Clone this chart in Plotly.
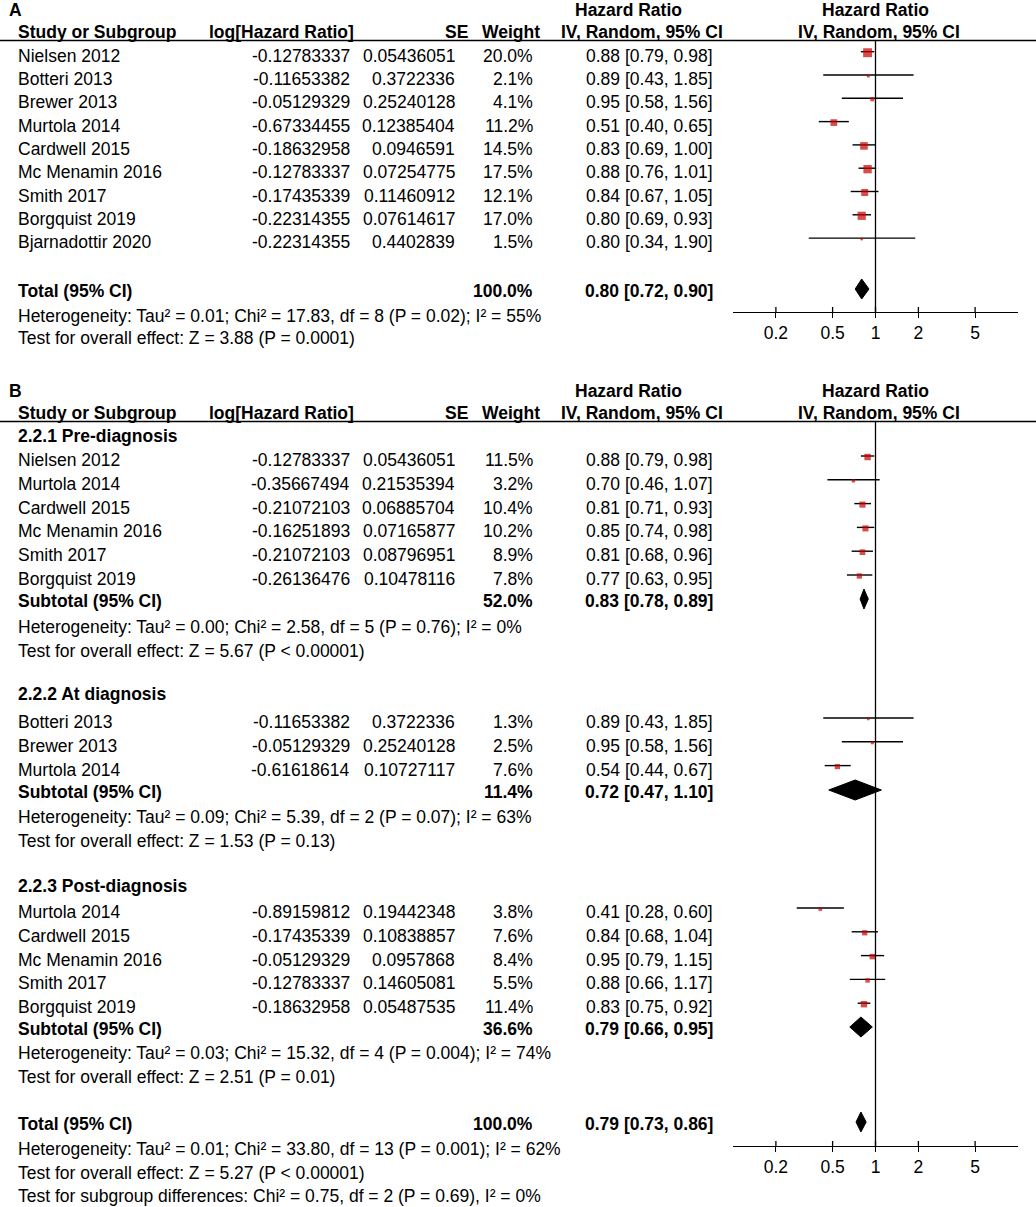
import math
import plotly.graph_objects as go

# ---------------- DATA: panel A ----------------
study_a = ["Nielsen 2012", "Botteri 2013", "Brewer 2013", "Murtola 2014", "Cardwell 2015",
           "Mc Menamin 2016", "Smith 2017", "Borgquist 2019", "Bjarnadottir 2020"]
loghr_a = [-0.12783337, -0.11653382, -0.05129329, -0.67334455, -0.18632958,
           -0.12783337, -0.17435339, -0.22314355, -0.22314355]
se_a = [0.05436051, 0.3722336, 0.25240128, 0.12385404, 0.0946591,
        0.07254775, 0.11460912, 0.07614617, 0.4402839]
weight_a = [20.0, 2.1, 4.1, 11.2, 14.5, 17.5, 12.1, 17.0, 1.5]
hr_a = [0.88, 0.89, 0.95, 0.51, 0.83, 0.88, 0.84, 0.80, 0.80]
lo_a = [0.79, 0.43, 0.58, 0.40, 0.69, 0.76, 0.67, 0.69, 0.34]
hi_a = [0.98, 1.85, 1.56, 0.65, 1.00, 1.01, 1.05, 0.93, 1.90]
total_a = [100.0, 0.80, 0.72, 0.90]          # weight, HR, lower, upper
het_a = "Heterogeneity: Tau² = 0.01; Chi² = 17.83, df = 8 (P = 0.02); I² = 55%"
eff_a = "Test for overall effect: Z = 3.88 (P = 0.0001)"

# ---------------- DATA: panel B ----------------
group_titles = ["2.2.1 Pre-diagnosis", "2.2.2 At diagnosis", "2.2.3 Post-diagnosis"]

pre_study = ["Nielsen 2012", "Murtola 2014", "Cardwell 2015", "Mc Menamin 2016", "Smith 2017", "Borgquist 2019"]
pre_loghr = [-0.12783337, -0.35667494, -0.21072103, -0.16251893, -0.21072103, -0.26136476]
pre_se = [0.05436051, 0.21535394, 0.06885704, 0.07165877, 0.08796951, 0.10478116]
pre_weight = [11.5, 3.2, 10.4, 10.2, 8.9, 7.8]
pre_hr = [0.88, 0.70, 0.81, 0.85, 0.81, 0.77]
pre_lo = [0.79, 0.46, 0.71, 0.74, 0.68, 0.63]
pre_hi = [0.98, 1.07, 0.93, 0.98, 0.96, 0.95]
pre_sub = [52.0, 0.83, 0.78, 0.89]
pre_het = "Heterogeneity: Tau² = 0.00; Chi² = 2.58, df = 5 (P = 0.76); I² = 0%"
pre_eff = "Test for overall effect: Z = 5.67 (P < 0.00001)"

at_study = ["Botteri 2013", "Brewer 2013", "Murtola 2014"]
at_loghr = [-0.11653382, -0.05129329, -0.61618614]
at_se = [0.3722336, 0.25240128, 0.10727117]
at_weight = [1.3, 2.5, 7.6]
at_hr = [0.89, 0.95, 0.54]
at_lo = [0.43, 0.58, 0.44]
at_hi = [1.85, 1.56, 0.67]
at_sub = [11.4, 0.72, 0.47, 1.10]
at_het = "Heterogeneity: Tau² = 0.09; Chi² = 5.39, df = 2 (P = 0.07); I² = 63%"
at_eff = "Test for overall effect: Z = 1.53 (P = 0.13)"

post_study = ["Murtola 2014", "Cardwell 2015", "Mc Menamin 2016", "Smith 2017", "Borgquist 2019"]
post_loghr = [-0.89159812, -0.17435339, -0.05129329, -0.12783337, -0.18632958]
post_se = [0.19442348, 0.10838857, 0.0957868, 0.14605081, 0.05487535]
post_weight = [3.8, 7.6, 8.4, 5.5, 11.4]
post_hr = [0.41, 0.84, 0.95, 0.88, 0.83]
post_lo = [0.28, 0.68, 0.79, 0.66, 0.75]
post_hi = [0.60, 1.04, 1.15, 1.17, 0.92]
post_sub = [36.6, 0.79, 0.66, 0.95]
post_het = "Heterogeneity: Tau² = 0.03; Chi² = 15.32, df = 4 (P = 0.004); I² = 74%"
post_eff = "Test for overall effect: Z = 2.51 (P = 0.01)"

total_b = [100.0, 0.79, 0.73, 0.86]
het_b = "Heterogeneity: Tau² = 0.01; Chi² = 33.80, df = 13 (P = 0.001); I² = 62%"
eff_b = "Test for overall effect: Z = 5.27 (P < 0.00001)"
sub_b = "Test for subgroup differences: Chi² = 0.75, df = 2 (P = 0.69), I² = 0%"

tick_vals = [0.2, 0.5, 1, 2, 5]
tick_text = ["0.2", "0.5", "1", "2", "5"]

# ---------------- LAYOUT / STYLE ----------------
W, H = 1036, 1207
FONT = "Liberation Sans, Arial, sans-serif"
FS = 17.5
RED = "#C80000"
X_NAME, X_LOG, X_SE, X_W, X_HR = 16, 352, 457, 535, 715
FOREST_L, FOREST_R = 733, 1018
TEXT_DY = 3

fig = go.Figure()
ann = []
shapes = []


def txt(x, y, s, anchor="left", bold=False):
    ann.append(dict(x=x, y=y, xref="x", yref="y", text=("<b>%s</b>" % s) if bold else s,
                    showarrow=False, xanchor=anchor, yanchor="middle",
                    font=dict(family=FONT, size=FS, color="black")))


def fmt_ci(hr, lo, hi):
    return "%.2f [%.2f, %.2f]" % (hr, lo, hi)


def header(y_top, label):
    txt(7, y_top, label, bold=True)
    txt(573, y_top, "Hazard Ratio", bold=True)
    txt(875.5, y_top, "Hazard Ratio", anchor="center", bold=True)
    y2 = y_top + 22
    txt(16, y2, "Study or Subgroup", bold=True)
    txt(207, y2, "log[Hazard Ratio]", bold=True)
    txt(470, y2, "SE", anchor="right", bold=True)
    txt(480, y2, "Weight", bold=True)
    txt(559, y2, "IV, Random, 95% CI", bold=True)
    txt(879, y2, "IV, Random, 95% CI", anchor="center", bold=True)
    shapes.append(dict(type="line", xref="x", yref="y", x0=0, x1=W, y0=y_top + 30.5, y1=y_top + 30.5,
                       line=dict(color="black", width=1.3)))
    return y_top + 30.5


def study_rows(xa, names, lh, se, w, hr, lo, hi, y0, step, k):
    ys = [y0 + step * i for i in range(len(names))]
    for i, n in enumerate(names):
        yt = ys[i] + TEXT_DY
        txt(X_NAME, yt, n)
        txt(X_LOG, yt, repr(lh[i]), anchor="right")
        txt(X_SE, yt, repr(se[i]), anchor="right")
        txt(X_W, yt, "%.1f%%" % w[i], anchor="right")
        txt(X_HR, yt, fmt_ci(hr[i], lo[i], hi[i]), anchor="right")
    lx, ly = [], []
    for i in range(len(names)):
        lx += [lo[i], hi[i], None]
        ly += [ys[i] - 1, ys[i] - 1, None]
    fig.add_trace(go.Scatter(x=lx, y=ly, xaxis=xa, yaxis="y", mode="lines",
                             line=dict(color="black", width=1.4), hoverinfo="skip", showlegend=False))
    fig.add_trace(go.Scatter(x=hr, y=ys, xaxis=xa, yaxis="y", mode="markers",
                             marker=dict(symbol="square", color=RED, line=dict(width=0),
                                         size=[max(2.5, k * math.sqrt(v)) for v in w]),
                             hoverinfo="skip", showlegend=False))
    return ys


def summary(xa, label, vals, y, half=10):
    w, hr, lo, hi = vals
    txt(X_NAME, y + 2, label, bold=True)
    txt(X_W, y + 2, "%.1f%%" % w, anchor="right", bold=True)
    txt(X_HR, y + 2, fmt_ci(hr, lo, hi), anchor="right", bold=True)
    fig.add_trace(go.Scatter(x=[lo, hr, hi, hr, lo], y=[y, y - half, y, y + half, y],
                             xaxis=xa, yaxis="y", mode="lines", fill="toself",
                             fillcolor="black", line=dict(color="black", width=1),
                             hoverinfo="skip", showlegend=False))


def axis_marks(xref, y_top, y_axis):
    shapes.append(dict(type="line", xref=xref, yref="y", x0=1, x1=1, y0=y_top, y1=y_axis,
                       line=dict(color="black", width=1.3)))
    for t in tick_vals:
        shapes.append(dict(type="line", xref=xref, yref="y", x0=t, x1=t, y0=y_axis - 5, y1=y_axis,
                           line=dict(color="black", width=1.3)))


# invisible trace to establish the pixel canvas axes
fig.add_trace(go.Scatter(x=[0, W], y=[0, H], mode="markers", marker=dict(opacity=0),
                         hoverinfo="skip", showlegend=False))

# ---------------- PANEL A ----------------
AX_A = 312
line_a = header(10, "A")
study_rows("x2", study_a, loghr_a, se_a, weight_a, hr_a, lo_a, hi_a, 52.7, 23.3, 2.0)
summary("x2", "Total (95% CI)", total_a, 289)
txt(X_NAME, 316, het_a)
txt(X_NAME, 338, eff_a)
axis_marks("x2", line_a, AX_A)

# ---------------- PANEL B ----------------
AX_B = 1146
line_b = header(391, "B")
STEP_B = 23.8
K_B = 1.9
txt(X_NAME, 436, group_titles[0], bold=True)
study_rows("x3", pre_study, pre_loghr, pre_se, pre_weight, pre_hr, pre_lo, pre_hi, 457, STEP_B, K_B)
summary("x3", "Subtotal (95% CI)", pre_sub, 599)
txt(X_NAME, 627, pre_het)
txt(X_NAME, 651, pre_eff)

txt(X_NAME, 694, group_titles[1], bold=True)
study_rows("x3", at_study, at_loghr, at_se, at_weight, at_hr, at_lo, at_hi, 719, STEP_B, K_B)
summary("x3", "Subtotal (95% CI)", at_sub, 790)
txt(X_NAME, 817, at_het)
txt(X_NAME, 841, at_eff)

txt(X_NAME, 886, group_titles[2], bold=True)
study_rows("x3", post_study, post_loghr, post_se, post_weight, post_hr, post_lo, post_hi, 909, STEP_B, K_B)
summary("x3", "Subtotal (95% CI)", post_sub, 1027)
txt(X_NAME, 1053, post_het)
txt(X_NAME, 1077, post_eff)

summary("x3", "Total (95% CI)", total_b, 1122)
txt(X_NAME, 1149, het_b)
txt(X_NAME, 1173, eff_b)
txt(X_NAME, 1196, sub_b)
axis_marks("x3", line_b, AX_B)

forest_axis = dict(type="log", range=[-1, 1], domain=[FOREST_L / W, FOREST_R / W], anchor="free",
                   showline=True, linecolor="black", linewidth=1.3, ticks="outside", ticklen=5,
                   tickwidth=1.3, tickcolor="black", tickvals=tick_vals, ticktext=tick_text,
                   tickfont=dict(family=FONT, size=FS, color="black"), showgrid=False,
                   zeroline=False, fixedrange=True)

fig.update_layout(
    width=W, height=H, margin=dict(l=0, r=0, t=0, b=0),
    paper_bgcolor="white", plot_bgcolor="rgba(0,0,0,0)",
    xaxis=dict(range=[0, W], domain=[0, 1], visible=False, fixedrange=True),
    yaxis=dict(range=[H, 0], domain=[0, 1], visible=False, fixedrange=True),
    xaxis2=dict(forest_axis, position=1 - AX_A / H),
    xaxis3=dict(forest_axis, position=1 - AX_B / H),
    annotations=ann, shapes=shapes, showlegend=False,
)

fig.write_html("out.html", config={"displayModeBar": False},
               post_script="document.body.style.margin='0';document.body.style.overflow='hidden';")
